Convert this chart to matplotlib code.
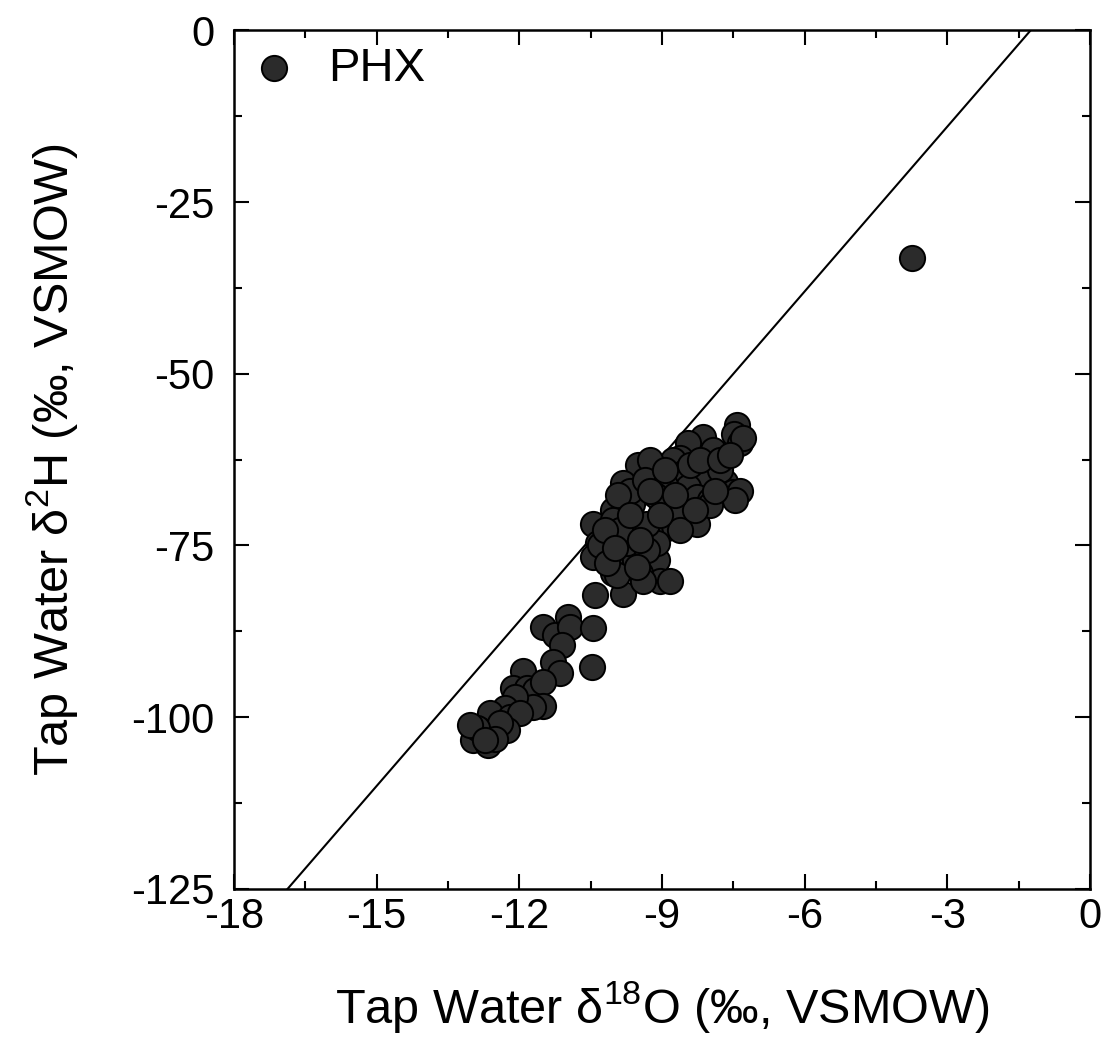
import numpy as np
import matplotlib
matplotlib.use("Agg")
import matplotlib.pyplot as plt

plt.rcParams['font.family'] = ['Liberation Sans', 'DejaVu Sans']
plt.rcParams['mathtext.default'] = 'regular'
plt.rcParams['axes.unicode_minus'] = False

# PHX tap water isotopes
d18O = [
    -7.42, -7.49, -7.36, -7.30, -8.14, -7.93, -8.45, -8.62, -8.77, -9.15,
    -9.51, -9.25, -8.56, -8.10, -7.68, -7.78, -7.51, -7.36, -8.45, -8.27,
    -7.99, -7.47, -9.63, -10.03, -10.45, -9.82, -9.67, -9.04, -8.83, -8.90,
    -9.46, -9.25, -8.62, -8.27, -8.69, -8.62, -7.99, -10.35, -10.45, -10.03,
    -9.57, -9.11, -9.11, -9.74, -9.32, -9.04, -9.82, -10.41, -10.03, -9.46,
    -9.40, -9.95, -9.53, -10.03, -9.32, -10.30, -10.16, -8.83,
    -9.36, -8.94, -8.41, -8.20, -7.89, -9.15, -9.88, -9.46, -8.94, -9.93,
    -8.31, -9.04, -9.67, -10.20, -9.99, -9.25, -8.73, -7.78, -7.57,
    -11.50, -11.25, -10.98, -10.94, -11.10, -10.45, -10.47, -11.29, -11.15, -11.92,
    -12.13, -11.84, -11.67, -11.50, -11.50, -11.71, -12.09, -12.30, -12.62, -12.20,
    -11.99, -12.83, -12.97, -12.26, -12.79, -12.97, -12.66, -12.41, -12.89, -13.04,
    -12.51, -12.72,
    -3.74,
]
d2H = [
    -57.5, -58.7, -60.1, -59.4, -59.2, -61.1, -60.1, -62.2, -62.6, -64.5,
    -63.3, -62.6, -64.5, -65.5, -65.8, -64.0, -67.2, -67.0, -66.5, -68.0,
    -68.4, -68.4, -68.9, -69.9, -71.8, -65.9, -67.0, -68.4, -69.9, -72.5,
    -71.8, -73.2, -70.9, -71.8, -70.6, -72.8, -69.1, -74.7, -76.7, -77.6,
    -77.1, -77.1, -74.7, -74.7, -75.7, -80.1, -82.0, -82.2, -79.0, -79.0,
    -80.1, -79.3, -78.2, -71.3, -71.8, -75.0, -77.6, -80.1,
    -65.5, -66.2, -63.3, -62.6, -67.0, -67.7, -72.8, -74.2, -64.0, -67.7,
    -69.9, -70.6, -70.6, -72.8, -75.4, -67.0, -67.7, -62.6, -61.9,
    -86.9, -88.1, -85.4, -86.9, -89.5, -87.0, -92.7, -92.0, -93.5, -93.2,
    -95.8, -95.8, -96.1, -94.9, -98.3, -98.5, -97.1, -98.7, -99.4, -100.0,
    -99.4, -101.9, -101.5, -101.9, -102.3, -103.3, -104.1, -100.9, -101.5, -101.2,
    -103.1, -103.3,
    -33.2,
]

# global meteoric water line
GMWL_SLOPE = 8
GMWL_INTERCEPT = 10

x_ticks = [-18, -15, -12, -9, -6, -3, 0]
y_ticks = [0, -25, -50, -75, -100, -125]

fig = plt.figure(figsize=(11.09, 10.44), dpi=100)
ax = fig.add_axes([0.211, 0.1485, 0.772, 0.8225])

ax.axline((0, GMWL_INTERCEPT), slope=GMWL_SLOPE, color='black', lw=1.5, zorder=1)
ax.scatter(d18O, d2H, s=330, facecolor='#2b2b2b', edgecolor='black',
           linewidth=1.4, zorder=2, label='PHX')

ax.set_xlim(-18, 0)
ax.set_ylim(-125, 0)
ax.set_xticks(x_ticks)
ax.set_yticks(y_ticks)
ax.set_xticks(np.arange(-16.5, 0, 3), minor=True)
ax.set_yticks(np.arange(-112.5, 0, 25), minor=True)
ax.tick_params(which='both', direction='in', top=True, right=True,
               width=1.5, labelsize=30)
ax.tick_params(axis='x', pad=6)
ax.tick_params(axis='y', pad=14)
ax.tick_params(which='major', length=11)
ax.tick_params(which='minor', length=6)
for sp in ax.spines.values():
    sp.set_linewidth(1.8)

ax.set_xlabel('Tap Water δ$^{18}$O (‰, VSMOW)', fontsize=35, labelpad=30)
ax.set_ylabel('Tap Water δ$^{2}$H (‰, VSMOW)', fontsize=35, labelpad=37)

ax.legend(loc='upper left', frameon=False, fontsize=34, handlelength=1.0,
          handletextpad=0.65, borderaxespad=0.1, borderpad=0.25,
          scatterpoints=1)

fig.savefig('out.png', dpi=100)
